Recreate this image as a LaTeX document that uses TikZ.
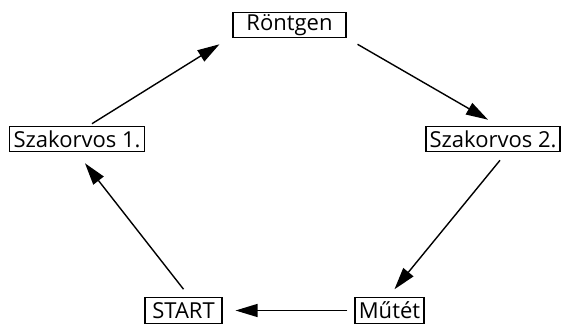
\documentclass[tikz,border=0pt]{standalone}
\usepackage{fontspec}
\setmainfont{Open Sans}
\usetikzlibrary{arrows.meta}
\begin{document}
\begin{tikzpicture}[x=1pt,y=1pt,
  box/.style={draw,line width=1.1pt,inner xsep=2pt,inner ysep=0pt,
    minimum height=25.5pt,font=\fontsize{22}{24}\selectfont},
  flow/.style={line width=1.4pt,-{Triangle[length=22pt,width=13pt]}}]
\useasboundingbox (0,0) rectangle (563,327);
\node[box,minimum width=113pt] (r)  at (289.5,302) {Röntgen};
\node[box,minimum width=135pt] (s1) at (77,188)    {Szakorvos 1.};
\node[box,minimum width=134pt] (s2) at (493,188)   {Szakorvos 2.};
\node[box,minimum width=77pt]  (st) at (183.5,16.5)  {START};
\node[box,minimum width=69pt]  (m)  at (389.5,16.5)  {Műtét};
\draw[flow] ([shift={(15,2)}]s1.north) -- ([shift={(-13,-6)}]r.south west);
\draw[flow] ([shift={(11,-6)}]r.south east) -- ([shift={(-5,6)}]s2.north);
\draw[flow] ([shift={(7,-8)}]s2.south) -- ([shift={(5,8)}]m.north);
\draw[flow] ([shift={(-7,0)}]m.west) -- ([shift={(13,0)}]st.east);
\draw[flow] ([shift={(0,8)}]st.north) -- ([shift={(8,-11)}]s1.south);
\end{tikzpicture}
\end{document}
